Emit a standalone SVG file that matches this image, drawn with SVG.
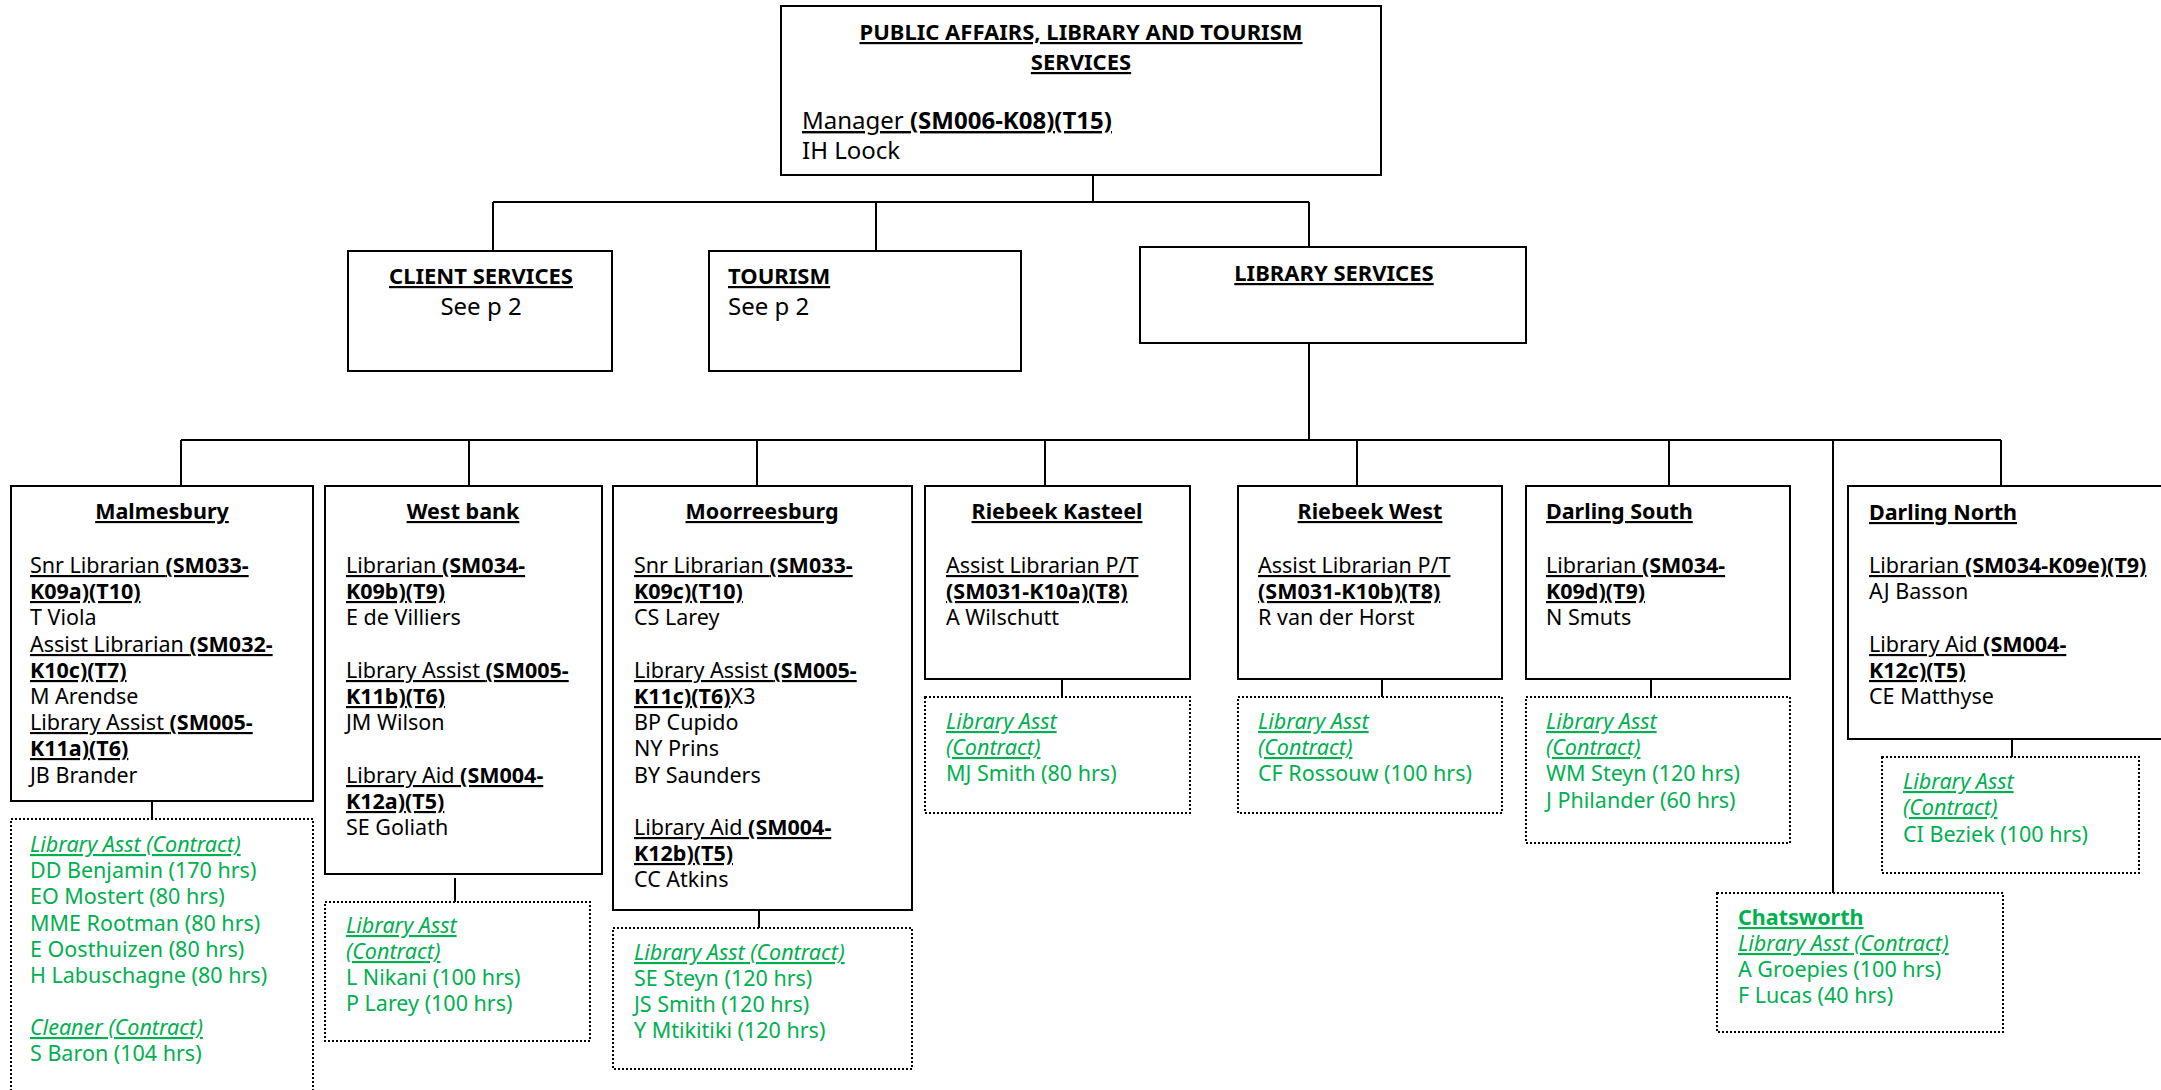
<svg xmlns="http://www.w3.org/2000/svg" width="2161" height="1090" viewBox="0 0 2161 1090">
<style>
text{font-family:"Noto Sans","DejaVu Sans",sans-serif;font-size:21.5px;fill:#000}
.b{font-weight:bold}
.u{text-decoration:underline}
.i{font-style:italic}
.g{fill:#00B050}
.big{font-size:24px}
.hd{font-size:22px;font-weight:bold;text-decoration:underline}
.c{text-anchor:middle}
.box{fill:#fff;stroke:#000;stroke-width:2}
.dot{fill:#fff;stroke:#000;stroke-width:2;stroke-dasharray:2 2}
.ln{fill:none;stroke:#000;stroke-width:2}
</style>
<rect width="2161" height="1090" fill="#fff"/>
<g id="connectors" class="ln">
<path d="M1093 175V202M493 202H1309M493 202V251M876 202V251M1309 202V247"/>
<path d="M1309 343V440M181 440H2001M181 440V486M469 440V486M757 440V486M1045 440V486M1357 440V486M1669 440V486M2001 440V486M1833 440V893"/>
<path d="M152 801V819M455 878V902M759 910V928M1062 679V697M1382 679V697M1651 679V697M2012 739V757"/>
</g>
<g id="manager">
<rect class="box" x="781" y="6" width="600" height="169"/>
<text class="hd c" x="1081" y="40">PUBLIC AFFAIRS, LIBRARY AND TOURISM</text>
<text class="hd c" x="1081" y="70">SERVICES</text>
<text class="big" x="802" y="129"><tspan class="u">Manager </tspan><tspan class="b u">(SM006-K08)(T15)</tspan></text>
<text class="big" x="802" y="159">IH Loock</text>
</g>
<g id="client-services">
<rect class="box" x="348" y="251" width="264" height="120"/>
<text class="hd c" x="481" y="284">CLIENT SERVICES</text>
<text class="big c" x="481" y="315">See p 2</text>
</g>
<g id="tourism">
<rect class="box" x="709" y="251" width="312" height="120"/>
<text class="hd" x="728" y="284">TOURISM</text>
<text class="big" x="728" y="315">See p 2</text>
</g>
<g id="library-services">
<rect class="box" x="1140" y="247" width="386" height="96"/>
<text class="hd c" x="1334" y="281">LIBRARY SERVICES</text>
</g>
<g id="malmesbury">
<rect class="box" x="11" y="486" width="302" height="315"/>
<text class="b u c" x="162" y="519">Malmesbury</text>
<text x="30" y="573"><tspan class="u">Snr Librarian </tspan><tspan class="b u">(SM033-</tspan></text>
<text class="b u" x="30" y="599">K09a)(T10)</text>
<text x="30" y="625">T Viola</text>
<text x="30" y="652"><tspan class="u">Assist Librarian </tspan><tspan class="b u">(SM032-</tspan></text>
<text class="b u" x="30" y="678">K10c)(T7)</text>
<text x="30" y="704">M Arendse</text>
<text x="30" y="730"><tspan class="u">Library Assist </tspan><tspan class="b u">(SM005-</tspan></text>
<text class="b u" x="30" y="756">K11a)(T6)</text>
<text x="30" y="783">JB Brander</text>
</g>
<g id="malmesbury-contract">
<rect class="dot" x="11" y="819" width="302" height="290"/>
<text class="g i u" x="30" y="852">Library Asst (Contract)</text>
<text class="g" x="30" y="878">DD Benjamin (170 hrs)</text>
<text class="g" x="30" y="904">EO Mostert (80 hrs)</text>
<text class="g" x="30" y="931">MME Rootman (80 hrs)</text>
<text class="g" x="30" y="957">E Oosthuizen (80 hrs)</text>
<text class="g" x="30" y="983">H Labuschagne (80 hrs)</text>
<text class="g i u" x="30" y="1035">Cleaner (Contract)</text>
<text class="g" x="30" y="1061">S Baron (104 hrs)</text>
</g>
<g id="west-bank">
<rect class="box" x="325" y="486" width="277" height="388"/>
<text class="b u c" x="463" y="519">West bank</text>
<text x="346" y="573"><tspan class="u">Librarian </tspan><tspan class="b u">(SM034-</tspan></text>
<text class="b u" x="346" y="599">K09b)(T9)</text>
<text x="346" y="625">E de Villiers</text>
<text x="346" y="678"><tspan class="u">Library Assist </tspan><tspan class="b u">(SM005-</tspan></text>
<text class="b u" x="346" y="704">K11b)(T6)</text>
<text x="346" y="730">JM Wilson</text>
<text x="346" y="783"><tspan class="u">Library Aid </tspan><tspan class="b u">(SM004-</tspan></text>
<text class="b u" x="346" y="809">K12a)(T5)</text>
<text x="346" y="835">SE Goliath</text>
</g>
<g id="west-bank-contract">
<rect class="dot" x="325" y="902" width="265" height="139"/>
<text class="g i u" x="346" y="933">Library Asst</text>
<text class="g i u" x="346" y="959">(Contract)</text>
<text class="g" x="346" y="985">L Nikani (100 hrs)</text>
<text class="g" x="346" y="1011">P Larey (100 hrs)</text>
</g>
<g id="moorreesburg">
<rect class="box" x="613" y="486" width="299" height="424"/>
<text class="b u c" x="762" y="519">Moorreesburg</text>
<text x="634" y="573"><tspan class="u">Snr Librarian </tspan><tspan class="b u">(SM033-</tspan></text>
<text class="b u" x="634" y="599">K09c)(T10)</text>
<text x="634" y="625">CS Larey</text>
<text x="634" y="678"><tspan class="u">Library Assist </tspan><tspan class="b u">(SM005-</tspan></text>
<text x="634" y="704"><tspan class="b u">K11c)(T6)</tspan>X3</text>
<text x="634" y="730">BP Cupido</text>
<text x="634" y="756">NY Prins</text>
<text x="634" y="783">BY Saunders</text>
<text x="634" y="835"><tspan class="u">Library Aid </tspan><tspan class="b u">(SM004-</tspan></text>
<text class="b u" x="634" y="861">K12b)(T5)</text>
<text x="634" y="887">CC Atkins</text>
</g>
<g id="moorreesburg-contract">
<rect class="dot" x="613" y="928" width="299" height="141"/>
<text class="g i u" x="634" y="960">Library Asst (Contract)</text>
<text class="g" x="634" y="986">SE Steyn (120 hrs)</text>
<text class="g" x="634" y="1012">JS Smith (120 hrs)</text>
<text class="g" x="634" y="1038">Y Mtikitiki (120 hrs)</text>
</g>
<g id="riebeek-kasteel">
<rect class="box" x="925" y="486" width="265" height="193"/>
<text class="b u c" x="1057" y="519">Riebeek Kasteel</text>
<text class="u" x="946" y="573">Assist Librarian P/T</text>
<text class="b u" x="946" y="599">(SM031-K10a)(T8)</text>
<text x="946" y="625">A Wilschutt</text>
</g>
<g id="riebeek-kasteel-contract">
<rect class="dot" x="925" y="697" width="265" height="116"/>
<text class="g i u" x="946" y="729">Library Asst</text>
<text class="g i u" x="946" y="755">(Contract)</text>
<text class="g" x="946" y="781">MJ Smith (80 hrs)</text>
</g>
<g id="riebeek-west">
<rect class="box" x="1238" y="486" width="264" height="193"/>
<text class="b u c" x="1370" y="519">Riebeek West</text>
<text class="u" x="1258" y="573">Assist Librarian P/T</text>
<text class="b u" x="1258" y="599">(SM031-K10b)(T8)</text>
<text x="1258" y="625">R van der Horst</text>
</g>
<g id="riebeek-west-contract">
<rect class="dot" x="1238" y="697" width="264" height="116"/>
<text class="g i u" x="1258" y="729">Library Asst</text>
<text class="g i u" x="1258" y="755">(Contract)</text>
<text class="g" x="1258" y="781">CF Rossouw (100 hrs)</text>
</g>
<g id="darling-south">
<rect class="box" x="1526" y="486" width="264" height="193"/>
<text class="b u" x="1546" y="519">Darling South</text>
<text x="1546" y="573"><tspan class="u">Librarian </tspan><tspan class="b u">(SM034-</tspan></text>
<text class="b u" x="1546" y="599">K09d)(T9)</text>
<text x="1546" y="625">N Smuts</text>
</g>
<g id="darling-south-contract">
<rect class="dot" x="1526" y="697" width="264" height="146"/>
<text class="g i u" x="1546" y="729">Library Asst</text>
<text class="g i u" x="1546" y="755">(Contract)</text>
<text class="g" x="1546" y="781">WM Steyn (120 hrs)</text>
<text class="g" x="1546" y="808">J Philander (60 hrs)</text>
</g>
<g id="darling-north">
<rect class="box" x="1848" y="486" width="340" height="253"/>
<text class="b u" x="1869" y="520">Darling North</text>
<text x="1869" y="573"><tspan class="u">Librarian </tspan><tspan class="b u">(SM034-K09e)(T9)</tspan></text>
<text x="1869" y="599">AJ Basson</text>
<text x="1869" y="652"><tspan class="u">Library Aid </tspan><tspan class="b u">(SM004-</tspan></text>
<text class="b u" x="1869" y="678">K12c)(T5)</text>
<text x="1869" y="704">CE Matthyse</text>
</g>
<g id="darling-north-contract">
<rect class="dot" x="1882" y="757" width="257" height="116"/>
<text class="g i u" x="1903" y="789">Library Asst</text>
<text class="g i u" x="1903" y="815">(Contract)</text>
<text class="g" x="1903" y="842">CI Beziek (100 hrs)</text>
</g>
<g id="chatsworth">
<rect class="dot" x="1717" y="893" width="286" height="139"/>
<text class="g b u" x="1738" y="925">Chatsworth</text>
<text class="g i u" x="1738" y="951">Library Asst (Contract)</text>
<text class="g" x="1738" y="977">A Groepies (100 hrs)</text>
<text class="g" x="1738" y="1003">F Lucas (40 hrs)</text>
</g>
</svg>
